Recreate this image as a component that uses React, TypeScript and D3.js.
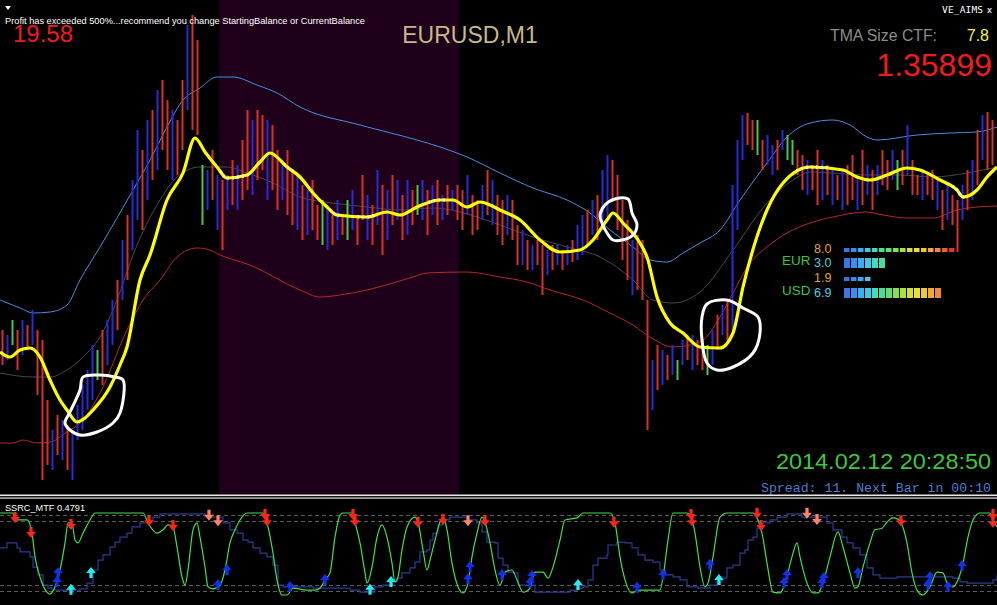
import React from "react";
import * as d3 from "d3";

// ---------- main panel data (EURUSD M1) ----------
const barHighs = [
  1.35670, 1.35665, 1.35680, 1.35670, 1.35680, 1.35675, 1.35690, 1.35670, 1.35660, 1.35600,
  1.35570, 1.35585, 1.35580, 1.35575, 1.35570, 1.35595, 1.35615, 1.35630, 1.35655, 1.35650,
  1.35670, 1.35680, 1.35700, 1.35720, 1.35760, 1.35785, 1.35820, 1.35870, 1.35850, 1.35880,
  1.35890, 1.35910, 1.35920, 1.35900, 1.35890, 1.35880, 1.35920, 1.35975, 1.35985, 1.35960,
  1.35835, 1.35830, 1.35850, 1.35825, 1.35820, 1.35825, 1.35840, 1.35835, 1.35860, 1.35890,
  1.35880, 1.35890, 1.35885, 1.35880, 1.35875, 1.35850, 1.35840, 1.35850, 1.35830, 1.35825,
  1.35815, 1.35810, 1.35820, 1.35795, 1.35800, 1.35795, 1.35785, 1.35800, 1.35785, 1.35800,
  1.35810, 1.35785, 1.35825, 1.35805, 1.35795, 1.35830, 1.35815, 1.35810, 1.35825, 1.35820,
  1.35805, 1.35820, 1.35810, 1.35815, 1.35820, 1.35810, 1.35815, 1.35820, 1.35805, 1.35815,
  1.35810, 1.35815, 1.35810, 1.35825, 1.35805, 1.35800, 1.35815, 1.35830, 1.35820, 1.35805,
  1.35800, 1.35805, 1.35800, 1.35775, 1.35770, 1.35760, 1.35755, 1.35760, 1.35755, 1.35750,
  1.35755, 1.35755, 1.35750, 1.35755, 1.35760, 1.35775, 1.35785, 1.35790, 1.35800, 1.35805,
  1.35830, 1.35845, 1.35840, 1.35825, 1.35800, 1.35780, 1.35760, 1.35765, 1.35760, 1.35700,
  1.35640, 1.35655, 1.35650, 1.35645, 1.35655, 1.35640, 1.35660, 1.35665, 1.35665, 1.35660,
  1.35660, 1.35655, 1.35670, 1.35685, 1.35695, 1.35700, 1.35815, 1.35860, 1.35885, 1.35887,
  1.35880, 1.35880, 1.35860, 1.35865, 1.35855, 1.35860, 1.35870, 1.35865, 1.35860, 1.35850,
  1.35845, 1.35840, 1.35835, 1.35850, 1.35840, 1.35835, 1.35830, 1.35825, 1.35830, 1.35835,
  1.35845, 1.35825, 1.35850, 1.35835, 1.35830, 1.35835, 1.35850, 1.35840, 1.35850, 1.35840,
  1.35850, 1.35875, 1.35840, 1.35825, 1.35830, 1.35825, 1.35830, 1.35820, 1.35810, 1.35815,
  1.35805, 1.35800, 1.35815, 1.35830, 1.35840, 1.35870, 1.35885, 1.35888, 1.35880,
];
const barLows = [
  1.35635, 1.35640, 1.35655, 1.35630, 1.35645, 1.35650, 1.35655, 1.35605, 1.35520, 1.35535,
  1.35530, 1.35545, 1.35540, 1.35530, 1.35520, 1.35560, 1.35570, 1.35590, 1.35600, 1.35620,
  1.35615, 1.35635, 1.35655, 1.35670, 1.35700, 1.35720, 1.35750, 1.35780, 1.35770, 1.35800,
  1.35820, 1.35830, 1.35850, 1.35830, 1.35820, 1.35825, 1.35850, 1.35890, 1.35870, 1.35865,
  1.35775, 1.35790, 1.35800, 1.35770, 1.35750, 1.35790, 1.35795, 1.35790, 1.35800, 1.35810,
  1.35805, 1.35820, 1.35830, 1.35800, 1.35810, 1.35790, 1.35800, 1.35785, 1.35775, 1.35770,
  1.35760, 1.35765, 1.35770, 1.35760, 1.35755, 1.35750, 1.35755, 1.35760, 1.35765, 1.35760,
  1.35770, 1.35755, 1.35780, 1.35760, 1.35755, 1.35775, 1.35745, 1.35760, 1.35775, 1.35780,
  1.35760, 1.35765, 1.35775, 1.35785, 1.35780, 1.35765, 1.35785, 1.35775, 1.35780, 1.35785,
  1.35790, 1.35780, 1.35770, 1.35785, 1.35765, 1.35770, 1.35780, 1.35785, 1.35775, 1.35765,
  1.35755, 1.35765, 1.35760, 1.35735, 1.35735, 1.35730, 1.35730, 1.35735, 1.35705, 1.35725,
  1.35730, 1.35735, 1.35730, 1.35735, 1.35738, 1.35740, 1.35745, 1.35755, 1.35765, 1.35760,
  1.35770, 1.35780, 1.35800, 1.35770, 1.35740, 1.35720, 1.35705, 1.35710, 1.35700, 1.35570,
  1.35590, 1.35610, 1.35615, 1.35620, 1.35625, 1.35620, 1.35635, 1.35640, 1.35630, 1.35635,
  1.35630, 1.35625, 1.35635, 1.35650, 1.35665, 1.35660, 1.35670, 1.35770, 1.35840, 1.35855,
  1.35850, 1.35845, 1.35830, 1.35835, 1.35825, 1.35830, 1.35850, 1.35840, 1.35835, 1.35825,
  1.35810, 1.35805, 1.35810, 1.35795, 1.35800, 1.35805, 1.35795, 1.35800, 1.35790, 1.35795,
  1.35800, 1.35790, 1.35795, 1.35805, 1.35790, 1.35805, 1.35815, 1.35810, 1.35820, 1.35810,
  1.35815, 1.35825, 1.35805, 1.35805, 1.35800, 1.35805, 1.35800, 1.35790, 1.35770, 1.35780,
  1.35775, 1.35748, 1.35780, 1.35790, 1.35800, 1.35815, 1.35840, 1.35830, 1.35835,
];
const barDirs = (
  "rbgrbrbrrr" + "brbrbbbbbg" + "rbbrbrbbrb" + "rbrrbrrbrr" + "gbrbrbrbrr" +
  "brrbrrbrrb" + "rbrrgbrbrg" + "brrbrbrbrb" + "rbrgbrbrbr" + "brrbrrbrbr" +
  "rbrrbrbrrb" + "rbrbrbbrbr" + "bbrrrrbrrr" + "brbrbgbrbr" + "rgbrbrbbbr" +
  "rgrbbrbggr" + "rbrrbrbrbr" + "rbrbrbrrbg" + "rbrrbrrbrb" + "rrbrbrbrr"
).split("");

// TMA centre line (yellow) [bar index, price]
const tmaLine = [
  [0, 1.35648], [2, 1.35643], [4, 1.35650], [6, 1.35652], [8, 1.35643], [10, 1.35620], [12, 1.35600],
  [13.4, 1.35590], [15.4, 1.35578], [17, 1.35582], [18.6, 1.35590], [22, 1.35613], [24, 1.35635],
  [25.4, 1.35653], [28, 1.35720], [30, 1.35745], [33.4, 1.35800], [36.6, 1.35827], [39, 1.35862],
  [41, 1.35848], [43.4, 1.35833], [45.4, 1.35822], [49.4, 1.35825], [52, 1.35838], [54, 1.35847],
  [57.4, 1.35833], [60, 1.35823], [62.6, 1.35807], [65.4, 1.35793], [67.4, 1.35785], [73.4, 1.35783],
  [77.4, 1.35788], [80, 1.35785], [83.4, 1.35793], [88, 1.35800], [90.6, 1.35800], [93.4, 1.35793],
  [96, 1.35798], [98, 1.35795], [100, 1.35790], [104, 1.35780], [108, 1.35760], [112, 1.35748],
  [116, 1.35750], [118.6, 1.35760], [121.4, 1.35780], [122.6, 1.35787], [124.6, 1.35777],
  [128, 1.35757], [129.4, 1.35743], [131.4, 1.35703], [134, 1.35677], [136.6, 1.35667],
  [140, 1.35653], [144, 1.35652], [146.6, 1.35667], [148.6, 1.35713], [153.4, 1.35790],
  [156.6, 1.35817], [162, 1.35833], [168.6, 1.35830], [171.4, 1.35823], [174, 1.35820],
  [177.4, 1.35825], [181.4, 1.35832], [184, 1.35830], [188, 1.35820], [191.4, 1.35810],
  [192.6, 1.35803], [195.4, 1.35810], [197.4, 1.35823], [199.4, 1.35833],
];
// bar-index spans where the TMA is drawn flat (white/yellow dashed)
const tmaFlatSpans = [[44, 50], [57, 59], [66, 68], [71, 75], [85, 89], [159, 166], [190, 193]];
const upperBand = [
  [0, 1.35700], [4, 1.35692], [6.6, 1.35687], [10, 1.35688], [13.4, 1.35695], [16, 1.35720],
  [20, 1.35753], [26.6, 1.35810], [30, 1.35840], [33.4, 1.35873], [36.6, 1.35900], [40, 1.35912],
  [43.4, 1.35923], [46.6, 1.35923], [51.4, 1.35915], [55.4, 1.35907], [60, 1.35893], [72, 1.35875],
  [83.4, 1.35860], [88, 1.35853], [93.4, 1.35843], [100, 1.35827], [106.6, 1.35812], [113.4, 1.35800],
  [118, 1.35787], [122, 1.35770], [126.6, 1.35753], [130, 1.35740], [133.4, 1.35738], [136.6, 1.35747],
  [140, 1.35757], [144, 1.35770], [148, 1.35800], [153.4, 1.35837], [157.4, 1.35863], [162, 1.35877],
  [166.6, 1.35880], [170, 1.35875], [173.4, 1.35863], [175.4, 1.35860], [183.4, 1.35865],
  [190, 1.35867], [195.4, 1.35868], [199.4, 1.35873],
];
const lowerBand = [
  [0, 1.35557], [2.6, 1.35557], [4.6, 1.35560], [7.4, 1.35557], [10, 1.35558], [13.4, 1.35568],
  [16.6, 1.35580], [20, 1.35607], [25.4, 1.35670], [28.6, 1.35700], [32, 1.35720], [35.4, 1.35743],
  [39.4, 1.35752], [42, 1.35750], [44, 1.35745], [50, 1.35735], [60, 1.35710], [64, 1.35703],
  [68, 1.35705], [73.4, 1.35710], [78.6, 1.35717], [82.6, 1.35723], [85.4, 1.35727], [93.4, 1.35728],
  [100, 1.35723], [105.4, 1.35718], [110, 1.35710], [116.6, 1.35700], [122, 1.35687], [126.6, 1.35675],
  [130, 1.35663], [134.6, 1.35653], [140, 1.35658], [144, 1.35683], [146.6, 1.35707], [150, 1.35737],
  [153.4, 1.35753], [157.4, 1.35767], [162, 1.35777], [166.6, 1.35783], [173.4, 1.35788],
  [176.6, 1.35785], [181.4, 1.35782], [186.6, 1.35782], [191.4, 1.35790], [195.4, 1.35793], [199.4, 1.35794],
];
const midLine = [
  [0, 1.35627], [6.6, 1.35623], [10, 1.35623], [13.4, 1.35630], [16.6, 1.35643], [20, 1.35663],
  [23.4, 1.35700], [26.6, 1.35745], [32, 1.35800], [35.4, 1.35823], [40, 1.35833], [45.4, 1.35833],
  [49.4, 1.35827], [54.6, 1.35817], [60, 1.35803], [66.6, 1.35797], [73.4, 1.35793], [80, 1.35790],
  [86.6, 1.35792], [92, 1.35788], [96, 1.35782], [100, 1.35775], [106.6, 1.35763], [113.4, 1.35753],
  [120, 1.35743], [126.6, 1.35720], [130.6, 1.35700], [134.6, 1.35697], [140, 1.35708],
  [146.6, 1.35750], [153.4, 1.35797], [158.6, 1.35820], [162, 1.35828], [173.4, 1.35825],
  [180, 1.35825], [186.6, 1.35823], [193.4, 1.35827], [199.4, 1.35833],
];
const sessionRange = [43.8, 91.8];

// hand-drawn circles [bar index, price]
const circleA = [
  [16.6, 1.35623], [20, 1.35625], [23, 1.35623], [24.6, 1.35620], [24, 1.35587], [22.6, 1.35577],
  [19.4, 1.35568], [16, 1.35565], [14, 1.35570], [13, 1.35577], [14, 1.35588], [16, 1.35610],
];
const circleB = [
  [123, 1.35801], [125.6, 1.35801], [126.4, 1.35787], [127.4, 1.35775], [126.6, 1.35765],
  [124.4, 1.35760], [122.6, 1.35760], [121.4, 1.35767], [120.4, 1.35777], [120, 1.35785], [121, 1.35795],
];
const circleC = [
  [141.4, 1.35696], [145.4, 1.35700], [148.6, 1.35692], [151.6, 1.35683], [152, 1.35667],
  [150.6, 1.35647], [146.6, 1.35633], [143.4, 1.35630], [141.4, 1.35637], [140.4, 1.35660], [140.4, 1.35683],
];

// ---------- SSRC_MTF indicator ----------
const ssrcLine = [
  [0, 1], [2.6, 1], [3, 0.83], [5.4, 0.83], [6.4, 0.51], [7, -0.07], [8, -0.56], [9.4, -0.93], [10, -0.98],
  [11, -0.8], [12, -0.39], [13, 0.27], [13.6, 0.76], [14.4, 0.76], [15, 0.34], [15.6, 0.27], [16.6, 0.51],
  [18, 0.83], [19, 1], [28.6, 1], [29.6, 0.76], [31.4, 0.51], [32.6, 0.59], [33.6, 0.71], [34.6, 0.66],
  [35.4, 0.17], [36.4, -0.56], [37, -0.76], [37.6, -0.39], [38.6, 0.59], [39.4, 0.76], [40, 0.41],
  [41, -0.32], [41.6, -0.8], [42.6, -0.85], [44, -0.76], [45, -0.39], [46, 0.27], [47, 0.59], [48, 0.83],
  [49.4, 1], [52.6, 1], [53.6, 0.66], [54.6, 0.02], [55.4, -0.63], [56.4, -1], [57.4, -1], [58.6, -0.83],
  [61.4, -0.88], [63, -0.88], [64, -0.83], [65, -0.63], [66, -0.46], [67, 0.41], [68, 0.95], [68.6, 1],
  [70.4, 1], [71, 0.76], [72, 0.27], [73, -0.46], [73.4, -0.71], [74.4, -0.32], [75.4, 0.41], [76.4, 0.71],
  [77.4, 0.41], [78.4, -0.22], [79, -0.68], [79.6, -0.56], [80.4, 0.1], [81.4, 0.66], [83, 0.9],
  [83.6, 0.78], [84.6, 0.1], [85.4, -0.39], [86, -0.15], [87, 0.34], [88, 0.78], [88.6, 0.9], [89.4, 0.59],
  [90.4, -0.22], [91.6, -0.8], [92.6, -0.95], [93.6, -0.71], [94.4, -0.07], [95.4, 0.51], [96.4, 0.9],
  [97, 0.78], [98, 0.27], [99, -0.39], [100, -0.76], [101, -0.44], [102.4, -0.39], [103.4, -0.63],
  [104.6, -0.93], [106, -0.83], [107, -0.44], [108.6, -0.44], [109.6, -0.59], [110.6, -0.32], [112, 0.34],
  [113, 0.83], [115.4, 0.88], [116.6, 1], [122, 1], [123, 0.76], [124, -0.07], [125, -0.63], [126.4, -0.95],
  [127.6, -0.88], [132, -0.88], [132.6, -0.56], [133.6, 0.34], [134.6, 1], [137.4, 1], [138.4, 0.83],
  [139, 0.51], [140, -0.32], [141, -0.8], [141.6, -0.71], [142.6, -0.07], [144, 0.9], [145.4, 1],
  [150.6, 1], [151.6, 0.83], [152.4, 0.51], [153.4, -0.22], [154.6, -0.93], [156, -0.95], [157, -0.71],
  [158.4, -0.07], [159.4, 0.27], [160, -0.07], [161.4, -0.71], [162.6, -0.95], [163.6, -0.95],
  [164.6, -0.71], [166, -0.07], [167.6, 0.54], [168.6, 0.17], [170, -0.46], [171, -0.83], [171.6, -0.8],
  [172.6, -0.32], [174, 0.27], [175, 0.59], [176.4, 0.63], [177.4, 0.78], [178.6, 0.88], [179.6, 0.85],
  [180.4, 0.71], [181.4, 0.27], [182.4, -0.46], [183.4, -0.88], [184.6, -1], [186, -0.8], [187.4, -0.44],
  [188.6, -0.46], [189.6, -0.76], [190.6, -0.8], [191.6, -0.63], [192.6, -0.22], [193.6, 0.41],
  [194.6, 0.83], [196, 1], [198, 1], [198.6, 0.83], [199.4, 0.66],
];
const ssrcSignal = [
  [0, 0.15], [1.4, 0.27], [3.4, 0.15], [4, 0.05], [6, -0.07], [6.6, -0.32], [7.6, -0.51], [8.6, -0.76],
  [9.6, -0.83], [10.4, -0.88], [16, -0.85], [17.4, -0.71], [18.6, -0.39], [19.6, -0.15], [20.6, -0.02],
  [22, 0.17], [23, 0.29], [24, 0.41], [25.4, 0.51], [26.4, 0.66], [28, 0.76], [29.4, 0.8], [30.6, 0.9],
  [32, 0.98], [41, 0.9], [44.6, 0.76], [46, 0.59], [47.4, 0.51], [48.6, 0.34], [49.6, 0.29], [50.6, 0.15],
  [52, 0.02], [53.4, -0.07], [54.6, -0.27], [55.6, -0.76], [56.6, -0.8], [62.6, -0.83], [70, -0.88],
  [72, -0.93], [75, -0.8], [76.6, -0.76], [78.4, -0.68], [79.4, -0.59], [80.4, -0.46], [82, -0.34],
  [83, -0.2], [84, 0.05], [85.4, 0.1], [86, 0.34], [86.6, 0.51], [87.6, 0.71], [88.6, 0.83], [90, 0.9],
  [93.4, 0.83], [95.4, 0.76], [96.4, 0.54], [97.4, 0.29], [99, 0.27], [99.6, -0.1], [100.6, -0.27],
  [101.6, -0.44], [102.6, -0.46], [103.6, -0.76], [107, -0.93], [114, -0.88], [115.4, -0.83],
  [116.6, -0.8], [117.6, -0.63], [118.6, -0.27], [119.6, -0.1], [121.4, -0.02], [121.6, 0.22],
  [123.4, 0.29], [125, 0.27], [126.4, 0.15], [127.6, -0.02], [129, -0.15], [130.6, -0.2], [132, -0.39],
  [133, -0.51], [134.6, -0.56], [136, -0.63], [137.4, -0.8], [139.6, -0.83], [142, -0.76], [143.4, -0.68],
  [144.4, -0.59], [145.4, -0.34], [146.6, -0.27], [148, 0.02], [149, 0.1], [149.6, 0.34], [150.6, 0.41],
  [151.4, 0.63], [152.6, 0.76], [154, 0.83], [155.4, 0.9], [157.4, 0.98], [160.4, 0.9], [165.4, 0.76],
  [166.6, 0.59], [168.4, 0.41], [169.4, 0.27], [170.6, 0.15], [172, -0.02], [173.4, -0.34], [174.6, -0.51],
  [176, -0.59], [179.4, -0.56], [190.6, -0.59], [192, -0.68], [193.4, -0.71], [198.6, -0.63], [199.4, -0.51],
];
const sellArrows = [
  [3, 0.88], [6.2, 0.51], [14.2, 0.71], [29.8, 0.8], [34.6, 0.68], [53, 0.95], [53.4, 0.8], [70.6, 0.95],
  [71, 0.8], [83.6, 0.76], [88.6, 0.83], [97, 0.8], [122.8, 0.76], [138.2, 0.95], [138.4, 0.8],
  [151.4, 0.98], [152.2, 0.68], [180.2, 0.8], [198.6, 0.95], [198.6, 0.76],
];
const weakSellArrows = [[41.8, 0.93], [43.6, 0.8], [93.6, 0.8], [161.4, 0.98], [163.4, 0.83]];
const buyArrows = [
  [11.6, -0.44], [11.4, -0.66], [45.4, -0.37], [43.6, -0.73], [58, -0.78], [65, -0.61], [94, -0.29],
  [93.6, -0.59], [100.4, -0.49], [106.4, -0.51], [106, -0.68], [127.4, -0.8], [132.6, -0.49], [142, -0.24],
  [157.4, -0.49], [156.8, -0.68], [164.8, -0.56], [164.4, -0.68], [171.6, -0.44], [186, -0.54],
  [185.6, -0.73], [189.6, -0.78], [192.4, -0.27],
];
const weakBuyArrows = [[18.2, -0.44], [14.2, -0.85], [74, -0.85], [78.2, -0.66], [115.6, -0.73], [143.8, -0.61]];
const levels = [0.95, 0.8, -0.75, -0.9];

// ---------- currency strength meter ----------
const meterCurrencies = ["EUR", "USD"];
const meterStrong = [8.0, 1.9];
const meterWeak = [3.0, 6.9];
const meterPalette = [
  "#3a74e6", "#3a8ef0", "#3aaef2", "#3ccbe6", "#3edcc4", "#44e09a", "#5ee070", "#86e04a",
  "#b0e03a", "#d2e034", "#ecdc34", "#f2c634", "#f2aa34", "#f08a34", "#ec6230", "#e43424",
];

const FONT = "'Liberation Sans', Arial, sans-serif";

function arrowPath(x: number, y: number, down: boolean) {
  const s = down ? 1 : -1;
  return `M${x - 1.6},${y - 6 * s} L${x + 1.6},${y - 6 * s} L${x + 1.6},${y - 1 * s} L${x + 4.8},${y - 1 * s} L${x},${y + 5 * s} L${x - 4.8},${y - 1 * s} L${x - 1.6},${y - 1 * s} Z`;
}

export default function App() {
  React.useEffect(() => {
    document.body.style.margin = "0";
    document.body.style.background = "#000";
  }, []);

  const xScale = d3.scaleLinear().domain([0, 199.4]).range([0, 997]);
  const yMain = d3.scaleLinear().domain([1.35507, 1.36]).range([493, 0]);
  const yInd = d3.scaleLinear().domain([-1, 1]).range([595, 513]);

  const mainLine = d3.line<number[]>().x((d) => xScale(d[0])).y((d) => yMain(d[1])).curve(d3.curveMonotoneX);
  const circleLine = d3.line<number[]>().x((d) => xScale(d[0])).y((d) => yMain(d[1])).curve(d3.curveCatmullRomClosed.alpha(0.5));
  const indLine = d3.line<number[]>().x((d) => xScale(d[0])).y((d) => yInd(d[1])).curve(d3.curveMonotoneX);
  const stepLine = d3.line<number[]>().x((d) => xScale(d[0])).y((d) => yInd(d[1])).curve(d3.curveStepAfter);

  const dirColor: Record<string, string> = { r: "#d8302a", b: "#2a2ad6", g: "#48c848" };

  const meterRows: { y: number; h: number; val: number; color: string }[] = [];
  meterCurrencies.forEach((c, k) => {
    meterRows.push({ y: k === 0 ? 248 : 277, h: 4, val: meterStrong[k], color: "#e8a042" });
    meterRows.push({ y: k === 0 ? 258 : 288, h: 10, val: meterWeak[k], color: "#4ccfe0" });
  });

  const tmaPath = mainLine(tmaLine) || "";

  return (
    <svg width={997} height={605} style={{ position: "absolute", left: 0, top: 0, display: "block", background: "#000" }}>
      <defs>
        <clipPath id="mainClip"><rect x={0} y={0} width={997} height={494} /></clipPath>
        <clipPath id="indClip"><rect x={0} y={500} width={997} height={105} /></clipPath>
        <clipPath id="flatClip">
          {tmaFlatSpans.map((s, k) => (
            <rect key={k} x={xScale(s[0])} y={0} width={xScale(s[1]) - xScale(s[0])} height={494} />
          ))}
        </clipPath>
      </defs>
      <rect x={0} y={0} width={997} height={605} fill="#000" />
      {/* session highlight */}
      <rect x={xScale(sessionRange[0])} y={0} width={xScale(sessionRange[1]) - xScale(sessionRange[0])} height={494} fill="#1f001b" />

      <g clipPath="url(#mainClip)">
        <path d={mainLine(lowerBand) || ""} fill="none" stroke="#b8262c" strokeWidth={1} />
        <path d={mainLine(midLine) || ""} fill="none" stroke="#4a4a4a" strokeWidth={1} />
        <path d={mainLine(upperBand) || ""} fill="none" stroke="#4a8ee0" strokeWidth={1} />
        {barHighs.map((h, i) => (
          <rect key={i} x={xScale(i + 0.5) - 1} y={yMain(h)} width={2} height={Math.max(1, yMain(barLows[i]) - yMain(h))} fill={dirColor[barDirs[i]]} />
        ))}
        <path d={tmaPath} fill="none" stroke="#ffff00" strokeWidth={3.2} strokeLinejoin="round" />
        <g clipPath="url(#flatClip)">
          <path d={tmaPath} fill="none" stroke="#ffffff" strokeWidth={3.2} strokeDasharray="1.5,3.5" />
        </g>
        {[circleA, circleB, circleC].map((c, k) => (
          <path key={k} d={circleLine(c) || ""} fill="none" stroke="#ffffff" strokeWidth={3} />
        ))}
      </g>

      {/* texts main panel */}
      <path d="M5,6 L11,6 L8,10 Z" fill="#fff" />
      <text x={5} y={24} fill="#fff" fontFamily={FONT} fontSize={9.5} textLength={360} lengthAdjust="spacingAndGlyphs">
        Profit has exceeded 500%...recommend you change StartingBalance or CurrentBalance
      </text>
      <text x={13} y={42} fill="#f01c1c" fontFamily={FONT} fontSize={24}>19.58</text>
      <text x={470} y={43} fill="#c8b98a" fontFamily={FONT} fontSize={23} textAnchor="middle">EURUSD,M1</text>
      <text x={942} y={13} fill="#fff" fontFamily="'DejaVu Sans Mono', monospace" fontSize={9.5} textLength={41}>VE_AIMS</text>
      <text x={987} y={13} fill="#ddd" fontFamily={FONT} fontSize={9} fontWeight="bold">x</text>
      <text x={830} y={41} fill="#8c8c8c" fontFamily={FONT} fontSize={16} textLength={107} lengthAdjust="spacingAndGlyphs">TMA Size CTF:</text>
      <text x={989} y={41} fill="#f4f43c" fontFamily={FONT} fontSize={16} textAnchor="end">7.8</text>
      <text x={992} y={76} fill="#f01c1c" fontFamily={FONT} fontSize={32} textAnchor="end">1.35899</text>

      {/* strength meter */}
      {meterCurrencies.map((c, k) => (
        <text key={c} x={782} y={k === 0 ? 265 : 295} fill="#3cc43c" fontFamily={FONT} fontSize={13.5}>{c}</text>
      ))}
      {meterRows.map((r, k) => (
        <g key={k}>
          <text x={814} y={r.y + (r.h === 4 ? 5 : 9)} fill={r.color} fontFamily={FONT} fontSize={12.5}>{r.val.toFixed(1)}</text>
          {d3.range(Math.round(r.val * 2)).map((j) => (
            <rect key={j} x={844 + j * 7} y={r.y} width={r.h === 4 ? 5.5 : 6} height={r.h} fill={meterPalette[j]} />
          ))}
        </g>
      ))}

      <text x={991} y={469} fill="#3cc83c" fontFamily={FONT} fontSize={21.5} textAnchor="end" textLength={215} lengthAdjust="spacingAndGlyphs">2014.02.12 20:28:50</text>
      <text x={991} y={492} fill="#4a7ed0" fontFamily="'Liberation Mono', 'Courier New', monospace" fontSize={12.5} textAnchor="end" textLength={230} lengthAdjust="spacingAndGlyphs">Spread: 11. Next Bar in 00:10</text>

      {/* separators */}
      <rect x={0} y={494.5} width={997} height={1.6} fill="#e8e8e8" />
      <rect x={0} y={497.5} width={997} height={1.2} fill="#e8e8e8" />

      {/* indicator panel */}
      <g clipPath="url(#indClip)">
        {levels.map((l) => (
          <line key={l} x1={0} x2={997} y1={Math.round(yInd(l)) + 0.5} y2={Math.round(yInd(l)) + 0.5} stroke="#5a5a5a" strokeDasharray="4,3" strokeWidth={1} />
        ))}
        <path d={stepLine(ssrcSignal) || ""} fill="none" stroke="#2c3c94" strokeWidth={1.2} />
        <path d={indLine(ssrcLine) || ""} fill="none" stroke="#44e044" strokeWidth={1.2} />
        {sellArrows.map((a, k) => <path key={"s" + k} d={arrowPath(xScale(a[0]), yInd(a[1]), true)} fill="#ff2418" />)}
        {weakSellArrows.map((a, k) => <path key={"ws" + k} d={arrowPath(xScale(a[0]), yInd(a[1]), true)} fill="#ff8466" />)}
        {buyArrows.map((a, k) => <path key={"b" + k} d={arrowPath(xScale(a[0]), yInd(a[1]), false)} fill="#1430ec" />)}
        {weakBuyArrows.map((a, k) => <path key={"wb" + k} d={arrowPath(xScale(a[0]), yInd(a[1]), false)} fill="#22eef2" />)}
      </g>
      <text x={5} y={511} fill="#fff" fontFamily={FONT} fontSize={9.5} textLength={80} lengthAdjust="spacingAndGlyphs">SSRC_MTF 0.4791</text>
    </svg>
  );
}
